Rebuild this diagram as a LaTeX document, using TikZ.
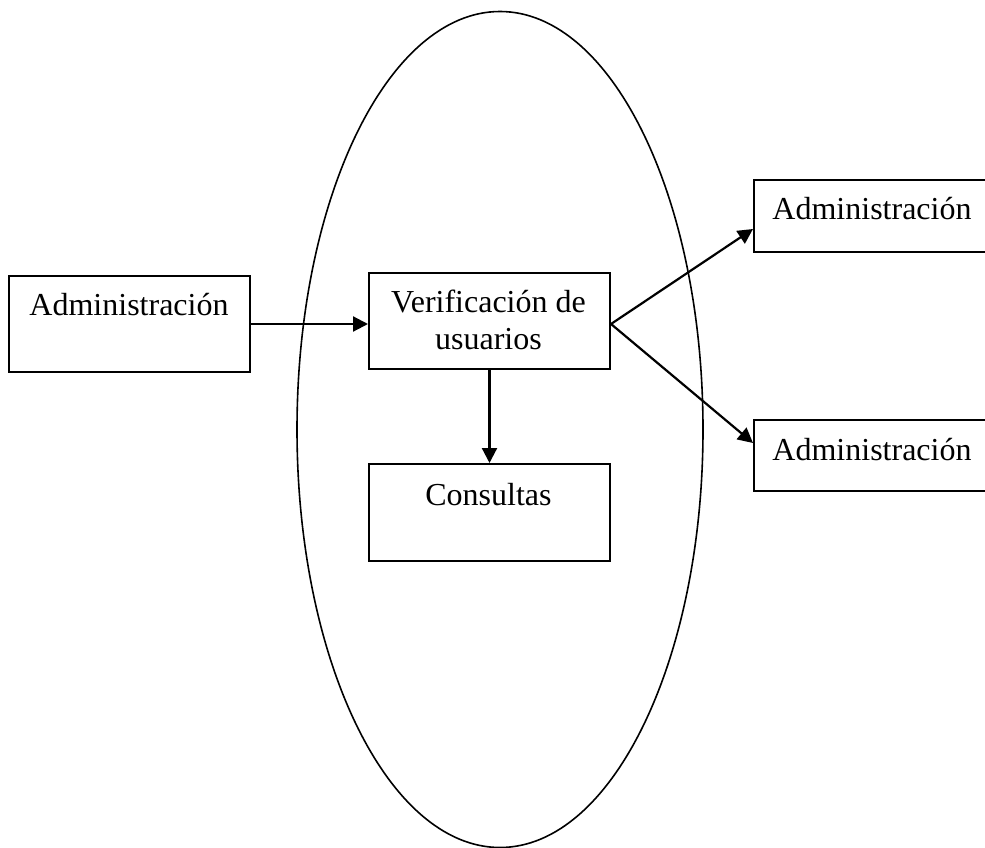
\documentclass[tikz,border=0pt]{standalone}
\usepackage{fontspec}
\setmainfont{Liberation Serif}
\usetikzlibrary{arrows.meta,calc,shapes.geometric}
\begin{document}
\begin{tikzpicture}[x=1pt,y=-1pt,
  box/.style={draw,line width=2pt,inner sep=0pt,anchor=north west},
  lbl/.style={inner sep=0pt,anchor=base,font=\fontsize{32}{37}\selectfont,align=center},
  flow/.style={line width=2.2pt,-{Triangle[length=15pt,width=15pt]}},
  zone/.style={draw,ellipse,line width=1.6pt,inner sep=0pt}]
\useasboundingbox (0,0) rectangle (985,848);

% enclosing system boundary
\node[zone,minimum width=406pt,minimum height=836pt] (sys) at (500,429.5) {};

% boxes
\node[box,minimum width=241pt,minimum height=96pt] (lb) at (8,275) {};
\node[box,minimum width=241pt,minimum height=96pt] (vb) at (368,272) {};
\node[box,minimum width=241pt,minimum height=97pt] (cb) at (368,463) {};
\node[box,minimum width=260pt,minimum height=72pt] (rt) at (753,179) {};
\node[box,minimum width=260pt,minimum height=71pt] (rb) at (753,419) {};

% texts, set near the top of each box
\node[lbl] (lbt) at (129,315) {Administración};
\node[lbl] (vbt1) at (488.5,312) {Verificación de};
\node[lbl] (vbt2) at (488.5,349) {usuarios};
\node[lbl] (cbt) at (488.5,505) {Consultas};
\node[lbl] (rtt) at (872,219) {Administración};
\node[lbl] (rbt) at (872,460) {Administración};

% connectors
\coordinate (vbout) at ($(vb.east)+(0,3)$);
\coordinate (rtin) at ($(rt.west)+(0,13)$);
\coordinate (rbin) at ($(rb.west)+(0,-12.5)$);
\draw[flow] (lb.east) -- (lb.east -| vb.west);
\draw[flow] (vb.south) -- (cb.north);
\draw[flow] (vbout) -- (rtin);
\draw[flow] (vbout) -- (rbin);
\end{tikzpicture}
\end{document}
